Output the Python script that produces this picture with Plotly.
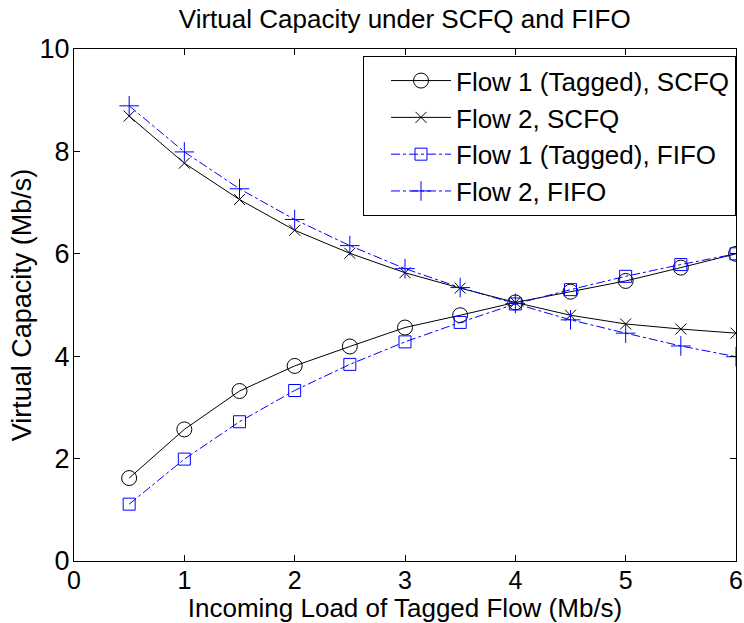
import plotly.graph_objects as go

load = [0.5, 1.0, 1.5, 2.0, 2.5, 3.0, 3.5, 4.0, 4.5, 5.0, 5.5, 6.0]
flow1_scfq = [1.62, 2.57, 3.32, 3.81, 4.19, 4.56, 4.80, 5.05, 5.26, 5.47, 5.73, 6.0]
flow2_scfq = [8.69, 7.77, 7.06, 6.46, 6.01, 5.63, 5.33, 5.05, 4.80, 4.63, 4.53, 4.45]
flow1_fifo = [1.11, 1.99, 2.72, 3.33, 3.84, 4.28, 4.66, 5.02, 5.30, 5.56, 5.79, 6.0]
flow2_fifo = [8.89, 7.99, 7.27, 6.67, 6.16, 5.71, 5.34, 5.03, 4.71, 4.45, 4.20, 3.99]

names = ["Flow 1 (Tagged), SCFQ", "Flow 2, SCFQ", "Flow 1 (Tagged), FIFO", "Flow 2, FIFO"]
title = "Virtual Capacity under SCFQ and FIFO"
xlabel = "Incoming Load of Tagged Flow (Mb/s)"
ylabel = "Virtual Capacity (Mb/s)"

BLUE = "#0000FF"
fig = go.Figure()
fig.add_trace(go.Scatter(x=load, y=flow1_scfq, name=names[0], mode="lines+markers",
                         line=dict(color="black", width=1),
                         marker=dict(symbol="circle-open", size=15, color="black", line=dict(width=1))))
fig.add_trace(go.Scatter(x=load, y=flow2_scfq, name=names[1], mode="lines+markers",
                         line=dict(color="black", width=1),
                         marker=dict(symbol="x-thin-open", size=11, color="black", line=dict(width=1, color="black"))))
fig.add_trace(go.Scatter(x=load, y=flow1_fifo, name=names[2], mode="lines+markers",
                         line=dict(color=BLUE, width=1, dash="dashdot"),
                         marker=dict(symbol="square-open", size=12, color=BLUE, line=dict(width=1))))
fig.add_trace(go.Scatter(x=load, y=flow2_fifo, name=names[3], mode="lines+markers",
                         line=dict(color=BLUE, width=1, dash="dashdot"),
                         marker=dict(symbol="cross-thin-open", size=14, color=BLUE, line=dict(width=1, color=BLUE))))

axis_common = dict(showgrid=False, zeroline=False, showline=True, linecolor="black", linewidth=1,
                   mirror="ticks", ticks="inside", ticklen=6, tickcolor="black", automargin=False)
fig.update_xaxes(range=[0, 6], tickvals=[0, 1, 2, 3, 4, 5, 6], ticklabelstandoff=-3,
                 tickfont=dict(size=25, color="black"),
                 title=dict(text=xlabel, font=dict(size=26, color="black"), standoff=5), **axis_common)
fig.update_yaxes(range=[0, 10], tickvals=[0, 2, 4, 6, 8, 10], ticklabelstandoff=-2,
                 tickfont=dict(size=27, color="black"),
                 title=dict(text=ylabel, font=dict(size=27, color="black"), standoff=0), **axis_common)

fig.update_layout(
    width=744, height=623,
    font=dict(family="Liberation Sans, Arial, sans-serif", color="black"),
    paper_bgcolor="white", plot_bgcolor="white",
    margin=dict(l=74, r=8, t=49, b=62),
    title=dict(text=title, x=0.544, xanchor="center", y=0.97, yanchor="middle", font=dict(size=26, color="black")),
    legend=dict(x=1.0, y=0.986, xanchor="right", yanchor="top", bordercolor="black", borderwidth=1,
                bgcolor="white", font=dict(size=26, color="black"), itemwidth=60, indentation=22,
                tracegroupgap=0),
    showlegend=True,
)
fig.write_html("out.html")
